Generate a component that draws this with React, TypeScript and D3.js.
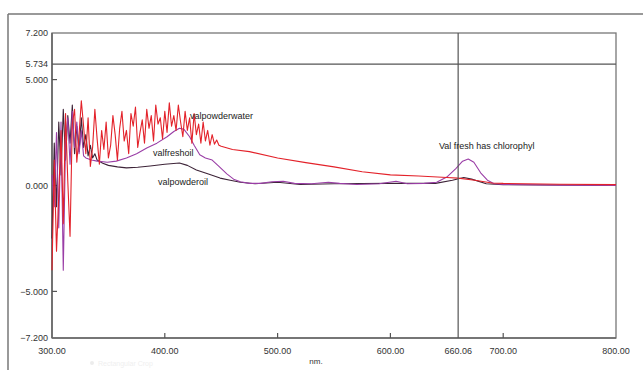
import * as d3 from 'd3';
import React from 'react';

// wavelength (nm) / absorbance readings
const waterNm = [300, 302, 304, 306, 308, 310, 312, 314, 316, 318, 320, 322, 324, 326, 328, 330, 332, 334, 336, 338,
  340, 342, 344, 346, 348, 350, 352, 354, 356, 358, 360, 362, 364, 366, 368, 370, 372, 374, 376, 378,
  380, 382, 384, 386, 388, 390, 392, 394, 396, 398, 400, 402, 404, 406, 408, 410, 412, 414, 416, 418,
  420, 422, 424, 426, 428, 430, 432, 434, 436, 438, 440, 442, 444, 446, 448, 450,
  460, 475, 500, 525, 550, 575, 600, 625, 650, 660, 675, 690, 700, 750, 800];
const waterVal = [-4.0, 1.2, -3.1, -0.5, 2.6, -1.8, 3.4, 0.2, -2.4, 2.9, 3.6, 1.1, 2.4, 4.0, 2.8, 1.5, 3.2, 0.9, 1.8, 3.6,
  2.2, 1.0, 2.6, 1.7, 3.0, 1.3, 1.9, 3.3, 2.4, 1.2, 2.7, 3.5, 2.1, 2.6, 1.5, 3.4, 2.8, 3.7, 1.8, 2.5,
  3.1, 2.0, 3.6, 2.7, 3.3, 2.1, 3.8, 2.9, 3.2, 2.2, 3.5, 2.5, 3.9, 2.8, 3.3, 2.6, 3.8, 3.0, 2.3, 3.5,
  2.6, 3.2, 2.0, 3.4, 2.4, 2.9, 2.0, 3.0, 2.1, 2.6, 1.9, 2.4, 1.95, 2.15, 1.9, 1.85,
  1.7, 1.6, 1.3, 1.08, 0.88, 0.65, 0.5, 0.45, 0.38, 0.35, 0.25, 0.12, 0.1, 0.06, 0.04];

const freshNm = [300, 302, 304, 306, 308, 310, 312, 314, 316, 318, 320, 322, 324, 326, 328, 330, 335, 340, 349, 357,
  366, 375, 384, 393, 402, 408, 413, 417, 422, 426, 431, 436, 442, 448, 455, 461, 467, 475, 485, 495,
  505, 515, 530, 545, 555, 570, 590, 605, 615, 630, 641, 650, 658, 664, 669, 674, 680, 686, 692, 700, 750, 800];
const freshVal = [0.5, -1.0, 2.5, -2.0, 3.0, -4.0, 2.0, 3.2, 1.0, 3.5, 1.8, 3.0, 1.5, 2.6, 1.4, 1.3, 1.2, 1.15, 1.1, 1.15,
  1.3, 1.5, 1.77, 2.0, 2.3, 2.55, 2.7, 2.65, 2.3, 1.9, 1.45, 1.3, 1.2, 0.9, 0.55, 0.3, 0.18, 0.1, 0.1, 0.18,
  0.2, 0.1, 0.08, 0.15, 0.1, 0.05, 0.08, 0.2, 0.08, 0.1, 0.15, 0.4, 0.8, 1.15, 1.25, 1.1, 0.6, 0.25, 0.08, 0.05, 0.02, 0.0];

const oilNm = [300, 302, 304, 306, 308, 310, 312, 314, 316, 318, 320, 322, 324, 326, 328, 330, 332, 334, 336, 338,
  340, 345, 350, 358, 366, 376, 387, 400, 413, 420, 428, 438, 449, 458, 467, 480, 500, 520, 550, 600,
  640, 655, 665, 672, 685, 700, 800];
const oilVal = [-2.5, 2.0, -1.0, 3.0, 0.5, 3.6, 1.2, 3.3, 2.0, 3.8, 1.5, 2.8, 1.6, 3.2, 1.8, 2.4, 1.4, 1.9, 1.3, 1.5,
  1.2, 1.05, 0.95, 0.88, 0.83, 0.86, 0.92, 1.0, 1.06, 0.95, 0.73, 0.55, 0.35, 0.25, 0.15, 0.08, 0.15, 0.05, 0.08, 0.1,
  0.1, 0.25, 0.38, 0.3, 0.08, 0.04, 0.0];

const xTicks = [300, 400, 500, 600, 700, 800];
const yTicks = [5, 0, -5];
const cursorX = 660.06;
const cursorY = 5.734;

const W = 643;
const H = 370;
const left = 52, right = 616, top = 33, bottom = 338;

export default function App() {
  const x = d3.scaleLinear().domain([300, 800]).range([left, right]);
  const y = d3.scaleLinear().domain([-7.2, 7.2]).range([bottom, top]);

  const line = d3.line<[number, number]>()
    .x(d => x(d[0]))
    .y(d => y(d[1]));

  const series = [
    { nm: oilNm, val: oilVal, color: '#3d2438' },
    { nm: freshNm, val: freshVal, color: '#9a3ea6' },
    { nm: waterNm, val: waterVal, color: '#e3222a' },
  ];

  const font = 'Arial, "Liberation Sans", sans-serif';
  const fmt = d3.format('.3f');
  const fmtX = d3.format('.2f');

  return (
    <svg width={W} height={H} style={{ position: 'absolute', left: 0, top: 0, background: '#fff' }}
      fontFamily={font}>
      {/* outer frame */}
      <line x1={8} x2={W} y1={14} y2={14} stroke="#777" strokeWidth={1.5} />
      <line x1={8} x2={8} y1={14} y2={H} stroke="#777" strokeWidth={1.5} />

      {/* plot box */}
      <rect x={left} y={top} width={right - left} height={bottom - top} fill="none" stroke="#777" strokeWidth={1.3} />
      <line x1={left} x2={left} y1={top} y2={bottom} stroke="#666" strokeWidth={1.6} />
      <line x1={left} x2={right} y1={bottom} y2={bottom} stroke="#666" strokeWidth={1.6} />

      {/* ticks */}
      {yTicks.map(t => (
        <line key={'yt' + t} x1={left} x2={left + 5} y1={y(t)} y2={y(t)} stroke="#555" strokeWidth={1.2} />
      ))}
      {xTicks.slice(1, -1).map(t => (
        <line key={'xt' + t} x1={x(t)} x2={x(t)} y1={bottom} y2={bottom - 5} stroke="#555" strokeWidth={1.2} />
      ))}

      {/* series */}
      {series.map((s, i) => (
        <path key={i} d={line(s.nm.map((n, j) => [n, s.val[j]]) as [number, number][]) || ''}
          fill="none" stroke={s.color} strokeWidth={1.1} strokeLinejoin="round" />
      ))}

      {/* cursor */}
      <line x1={left} x2={right} y1={y(cursorY)} y2={y(cursorY)} stroke="#555" strokeWidth={1.2} />
      <line x1={x(cursorX)} x2={x(cursorX)} y1={top} y2={bottom} stroke="#555" strokeWidth={1.2} />

      {/* y labels */}
      {[7.2, cursorY, ...yTicks, -7.2].map(t => (
        <text key={'yl' + t} x={left - 4} y={y(t)} dy="0.35em" textAnchor="end" fontSize={9} fill="#333">
          {fmt(t)}
        </text>
      ))}
      {/* x labels */}
      {[...xTicks, cursorX].map(t => (
        <text key={'xl' + t} x={x(t)} y={bottom + 16} textAnchor="middle" fontSize={9} fill="#333">
          {fmtX(t)}
        </text>
      ))}
      <text x={316} y={364} textAnchor="middle" fontSize={8} fill="#333">nm.</text>

      {/* faint overlay from screenshot */}
      <circle cx={92} cy={363} r={2} fill="#ececec" />
      <text x={98} y={366} fontSize={7} fill="#efefef">Rectangular Crop</text>

      {/* annotations */}
      <text x={190} y={119} fontSize={9} fill="#222">valpowderwater</text>
      <text x={153} y={156} fontSize={9} fill="#222">valfreshoil</text>
      <text x={158} y={185} fontSize={9} fill="#222">valpowderoil</text>
      <text x={439} y={149} fontSize={9} fill="#222">Val fresh has chlorophyl</text>
    </svg>
  );
}
